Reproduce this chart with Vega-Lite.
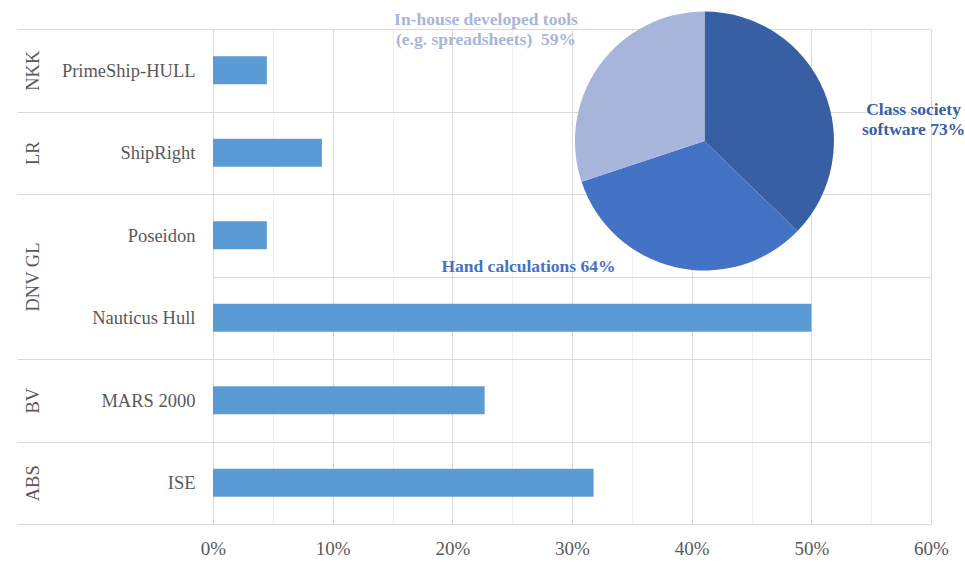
{
  "$schema": "https://vega.github.io/schema/vega-lite/v6.json",
  "width": 718,
  "height": 495,
  "autosize": "none",
  "padding": {"left": 213, "top": 29, "right": 34, "bottom": 42},
  "background": "white",
  "config": {"view": {"stroke": null}, "font": "Liberation Serif"},
  "datasets": {
    "tools": [
      {"society": "NKK", "tool": "PrimeShip-HULL", "share": 0.045},
      {"society": "LR", "tool": "ShipRight", "share": 0.091},
      {"society": "DNV GL", "tool": "Poseidon", "share": 0.045},
      {"society": "DNV GL", "tool": "Nauticus Hull", "share": 0.5},
      {"society": "BV", "tool": "MARS 2000", "share": 0.227},
      {"society": "ABS", "tool": "ISE", "share": 0.318}
    ],
    "methods": [
      {"category": "Class society software", "label": "Class society\nsoftware 73%", "share": 73},
      {"category": "Hand calculations", "label": "Hand calculations 64%", "share": 64},
      {"category": "In-house developed tools (e.g. spreadsheets)", "label": "In-house developed tools\n(e.g. spreadsheets)\u00a0 59%", "share": 59}
    ]
  },
  "layer": [
    {
      "data": {"name": "tools"},
      "mark": {"type": "bar", "color": "#5B9BD5", "height": {"band": 0.34}},
      "encoding": {
        "y": {
          "field": "tool",
          "type": "nominal",
          "sort": null,
          "scale": {"paddingInner": 0, "paddingOuter": 0},
          "axis": {
            "title": null,
            "domain": false,
            "tickBand": "extent",
            "ticks": true,
            "tickSize": 196,
            "tickColor": "#D9D9D9",
            "tickWidth": 1,
            "tickOpacity": {"condition": {"test": "datum.value == 'Poseidon'", "value": 0}, "value": 1},
            "grid": true,
            "gridColor": "#D9D9D9",
            "gridWidth": 1,
            "labelPadding": -178,
            "labelAlign": "right",
            "labelFont": "Liberation Serif",
            "labelFontSize": 18.5,
            "labelColor": "#595959"
          }
        },
        "x": {
          "field": "share",
          "type": "quantitative",
          "scale": {"domain": [0, 0.6], "nice": false},
          "axis": {
            "title": null,
            "values": [0, 0.025, 0.05, 0.075, 0.1, 0.125, 0.15, 0.175, 0.2, 0.225, 0.25, 0.275, 0.3, 0.325, 0.35, 0.375, 0.4, 0.425, 0.45, 0.475, 0.5, 0.525, 0.55, 0.575, 0.6],
            "format": ".0%",
            "labelExpr": "round(datum.value * 1000) % 100 == 0 ? datum.label : ''",
            "grid": true,
            "gridColor": {"condition": {"test": "round(datum.value * 1000) % 100 == 0", "value": "#D9D9D9"}, "value": "#F0F0F0"},
            "gridWidth": 1,
            "ticks": false,
            "domain": false,
            "labelPadding": 15,
            "labelFont": "Liberation Serif",
            "labelFontSize": 19,
            "labelColor": "#595959",
            "labelFlush": false
          }
        }
      }
    },
    {
      "data": {"name": "tools"},
      "mark": {"type": "point", "opacity": 0},
      "encoding": {
        "y": {
          "field": "tool",
          "type": "nominal",
          "sort": null,
          "scale": {"paddingInner": 0, "paddingOuter": 0},
          "axis": {
            "orient": "left",
            "offset": 0,
            "title": null,
            "domain": false,
            "ticks": false,
            "tickSize": 0,
            "grid": false,
            "labelAngle": -90,
            "labelAlign": "center",
            "labelBaseline": "middle",
            "labelPadding": 181,
            "labelOffset": {"condition": {"test": "lastindexof(pluck(data('tools'),'society'), pluck(data('tools'),'society')[indexof(pluck(data('tools'),'tool'), datum.value)]) > indexof(pluck(data('tools'),'tool'), datum.value)", "value": 41.25}, "value": 0},
            "labelExpr": "indexof(pluck(data('tools'),'society'), pluck(data('tools'),'society')[indexof(pluck(data('tools'),'tool'), datum.value)]) == indexof(pluck(data('tools'),'tool'), datum.value) ? pluck(data('tools'),'society')[indexof(pluck(data('tools'),'tool'), datum.value)] : ''",
            "labelFont": "Liberation Serif",
            "labelFontSize": 18.5,
            "labelColor": "#595959"
          }
        }
      }
    },
    {
      "data": {"name": "methods"},
      "mark": {"type": "arc", "outerRadius": 129.5},
      "encoding": {
        "theta": {"field": "share", "type": "quantitative", "stack": true},
        "color": {
          "field": "category",
          "type": "nominal",
          "scale": {
            "domain": ["Class society software", "Hand calculations", "In-house developed tools (e.g. spreadsheets)"],
            "range": ["#385FA3", "#4472C4", "#A8B5DA"]
          },
          "legend": null
        },
        "x": {"datum": 0.4107},
        "y": {"datum": 0.7737, "scale": {"domain": [0, 1]}, "axis": null}
      }
    },
    {
      "data": {"name": "methods"},
      "transform": [{"filter": {"field": "category", "equal": "Class society software"}}],
      "mark": {"type": "text", "font": "Liberation Serif", "fontWeight": "bold", "fontSize": 17.5, "lineBreak": "\n", "lineHeight": 20, "align": "center", "baseline": "middle"},
      "encoding": {
        "text": {"field": "label"},
        "color": {"field": "category", "type": "nominal", "legend": null},
        "x": {"datum": 0.5854},
        "y": {"datum": 0.8364, "scale": {"domain": [0, 1]}, "axis": null}
      }
    },
    {
      "data": {"name": "methods"},
      "transform": [{"filter": {"field": "category", "equal": "Hand calculations"}}],
      "mark": {"type": "text", "font": "Liberation Serif", "fontWeight": "bold", "fontSize": 17.5, "align": "center", "baseline": "middle"},
      "encoding": {
        "text": {"field": "label"},
        "color": {"field": "category", "type": "nominal", "legend": null},
        "x": {"datum": 0.2636},
        "y": {"datum": 0.5192, "scale": {"domain": [0, 1]}, "axis": null}
      }
    },
    {
      "data": {"name": "methods"},
      "transform": [{"filter": {"field": "category", "equal": "In-house developed tools (e.g. spreadsheets)"}}],
      "mark": {"type": "text", "font": "Liberation Serif", "fontWeight": "bold", "fontSize": 17.5, "lineBreak": "\n", "lineHeight": 20, "align": "center", "baseline": "middle"},
      "encoding": {
        "text": {"field": "label"},
        "color": {"field": "category", "type": "nominal", "legend": null},
        "x": {"datum": 0.2281},
        "y": {"datum": 1.0182, "scale": {"domain": [0, 1]}, "axis": null}
      }
    }
  ],
  "resolve": {"scale": {"y": "independent"}}
}
